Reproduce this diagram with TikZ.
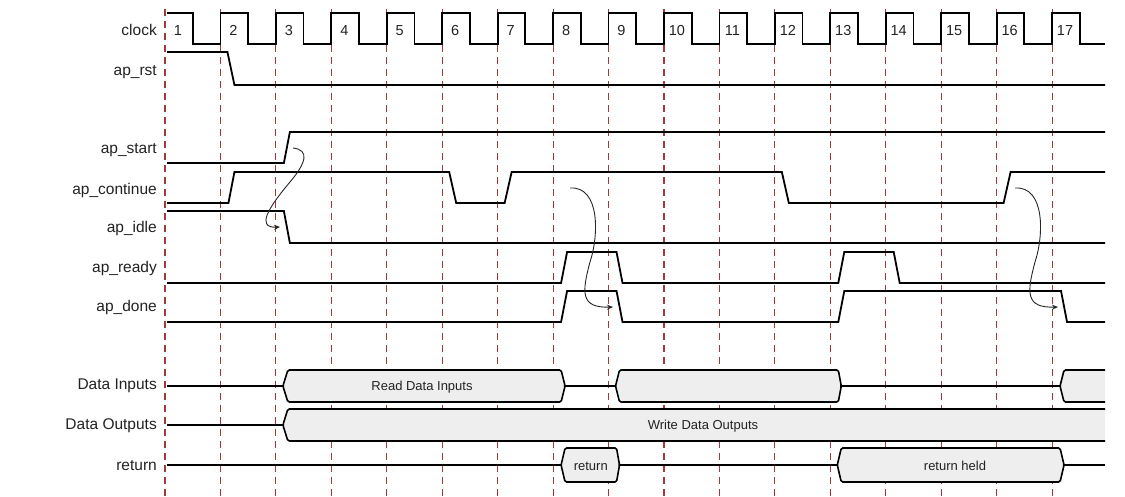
\documentclass[tikz,border=0pt]{standalone}
\usepackage{fontspec}
\setmainfont{Liberation Sans}
\usetikzlibrary{arrows.meta}
\definecolor{gridred}{HTML}{A33A3A}
\definecolor{boxfill}{HTML}{EEEEEE}
\definecolor{txt}{HTML}{222222}
\begin{document}
\begin{tikzpicture}[x=1pt,y=-1pt,
  declare function={tk(\k)=165+55.44*(\k-1);},
  grid/.style={draw=gridred,line width=1.1pt,dash pattern=on 7pt off 5pt},
  sig/.style={draw=black,line width=1.8pt,line join=miter},
  bus/.style={draw=black,line width=1.6pt,fill=boxfill,rounded corners=1.5pt},
  lab/.style={anchor=east,text=txt,font=\fontsize{15.5}{18}\selectfont,inner sep=0pt},
  num/.style={anchor=base,text=txt,font=\fontsize{14.5}{17}\selectfont,inner sep=0pt},
  boxtxt/.style={text=txt,font=\fontsize{13}{15}\selectfont,inner sep=0pt},
  cause/.style={draw=black!85,line width=0.9pt,-{Stealth[length=6pt,width=5pt]}}]
\useasboundingbox (0,0) rectangle (1125,496);
% grid of clock edges
\foreach \k in {1,...,17}{
  \draw[grid] ({tk(\k)},9) -- ({tk(\k)},496);
}
% labels
\node[lab] (lclock) at (157,30) {clock};
\node[lab] (lrst) at (157,72) {ap\_rst};
\node[lab] (lstart) at (157,150) {ap\_start};
\node[lab] (lcont) at (157,190) {ap\_continue};
\node[lab] (lidle) at (157,228) {ap\_idle};
\node[lab] (lready) at (157,268) {ap\_ready};
\node[lab] (ldone) at (157,307) {ap\_done};
\node[lab] (ldin) at (157,386) {Data Inputs};
\node[lab] (ldout) at (157,426) {Data Outputs};
\node[lab] (lret) at (157,466) {return};
% clock
\draw[sig] (167,13) foreach \k in {1,...,16}{ -- ({tk(\k)+27.7},13) -- ({tk(\k)+27.7},44) -- ({tk(\k+1)},44) -- ({tk(\k+1)},13) }
  -- ({tk(17)+27.7},13) -- ({tk(17)+27.7},44) -- (1105,44);
\foreach \k in {1,...,17}{
  \node[num] (n\k) at ({tk(\k)+13},35) {\k};
}
% ap_rst
\draw[sig] (167,52) -- ({tk(2)+7},52) -- ({tk(2)+14},85) -- (1105,85);
% ap_start
\draw[sig] (167,163) -- ({tk(3)+8},163) -- ({tk(3)+14},132) -- (1105,132);
% ap_continue
\draw[sig] (167,203) -- ({tk(2)+8},203) -- ({tk(2)+14},172) -- ({tk(6)+7},172) -- ({tk(6)+14},203)
  -- ({tk(7)+7},203) -- ({tk(7)+14},172) -- ({tk(12)+7},172) -- ({tk(12)+14},203)
  -- ({tk(16)+7},203) -- ({tk(16)+14},172) -- (1105,172);
% ap_idle
\draw[sig] (167,211) -- ({tk(3)+8},211) -- ({tk(3)+14},243) -- (1105,243);
% ap_ready
\draw[sig] (167,283) -- ({tk(8)+8},283) -- ({tk(8)+14},252) -- ({tk(9)+8},252) -- ({tk(9)+14},283)
  -- ({tk(13)+8},283) -- ({tk(13)+14},252) -- ({tk(14)+8},252) -- ({tk(14)+14},283) -- (1105,283);
% ap_done
\draw[sig] (167,322) -- ({tk(8)+8},322) -- ({tk(8)+14},291) -- ({tk(9)+8},291) -- ({tk(9)+14},322)
  -- ({tk(13)+8},322) -- ({tk(13)+14},291) -- ({tk(17)+9},291) -- ({tk(17)+15},322) -- (1105,322);
% Data Inputs
\draw[sig] (167,386) -- ({tk(3)+7},386);
\draw[bus] ({tk(3)+7},386) -- ({tk(3)+12},370) -- ({tk(8)+8},370) -- ({tk(8)+12},386) -- ({tk(8)+8},402) -- ({tk(3)+12},402) -- cycle;
\node[boxtxt] (rdi) at (422,387) {Read Data Inputs};
\draw[sig] ({tk(8)+12},386) -- ({tk(9)+7},386);
\draw[bus] ({tk(9)+7},386) -- ({tk(9)+11},370) -- ({tk(13)+8},370) -- ({tk(13)+11},386) -- ({tk(13)+8},402) -- ({tk(9)+11},402) -- cycle;
\draw[sig] ({tk(13)+11},386) -- ({tk(17)+8},386);
\fill[boxfill] ({tk(17)+8},386) -- ({tk(17)+12},370) -- (1105,370) -- (1105,402) -- ({tk(17)+12},402) -- cycle;
\draw[bus,fill=none] (1105,370) -- ({tk(17)+12},370) -- ({tk(17)+8},386) -- ({tk(17)+12},402) -- (1105,402);
% Data Outputs
\draw[sig] (167,425) -- ({tk(3)+7},425);
\fill[boxfill] ({tk(3)+7},425) -- ({tk(3)+12},409) -- (1105,409) -- (1105,441) -- ({tk(3)+12},441) -- cycle;
\draw[bus,fill=none] (1105,409) -- ({tk(3)+12},409) -- ({tk(3)+7},425) -- ({tk(3)+12},441) -- (1105,441);
\node[boxtxt] (wdo) at (703,426) {Write Data Outputs};
% return
\draw[sig] (167,465) -- ({tk(8)+8},465);
\draw[bus] ({tk(8)+8},465) -- ({tk(8)+12},448) -- ({tk(9)+8},448) -- ({tk(9)+11},465) -- ({tk(9)+8},482) -- ({tk(8)+12},482) -- cycle;
\node[boxtxt] (ret) at ({(tk(8)+tk(9))/2+10},466) {return};
\draw[sig] ({tk(9)+11},465) -- ({tk(13)+7},465);
\draw[bus] ({tk(13)+7},465) -- ({tk(13)+11},448) -- ({tk(17)+8},448) -- ({tk(17)+12},465) -- ({tk(17)+8},482) -- ({tk(13)+11},482) -- cycle;
\node[boxtxt] (rh) at (955,466) {return held};
\draw[sig] ({tk(17)+12},465) -- (1105,465);
% cause arrows
\coordinate (c1s) at (293,148);
\coordinate (c1e) at (280,227);
\draw[cause] (c1s) .. controls (310,150) and (306,163) .. (290,182) .. controls (268,208) and (256,228) .. (c1e);
\coordinate (c2s) at (570,188);
\coordinate (c2e) at (613,307);
\draw[cause] (c2s) .. controls (600,186) and (599,235) .. (590,262) .. controls (582,292) and (580,308) .. (c2e);
\coordinate (c3s) at (1015,188);
\coordinate (c3e) at (1058,307);
\draw[cause] (c3s) .. controls (1045,186) and (1044,235) .. (1035,262) .. controls (1027,292) and (1025,308) .. (c3e);
\end{tikzpicture}
\end{document}
